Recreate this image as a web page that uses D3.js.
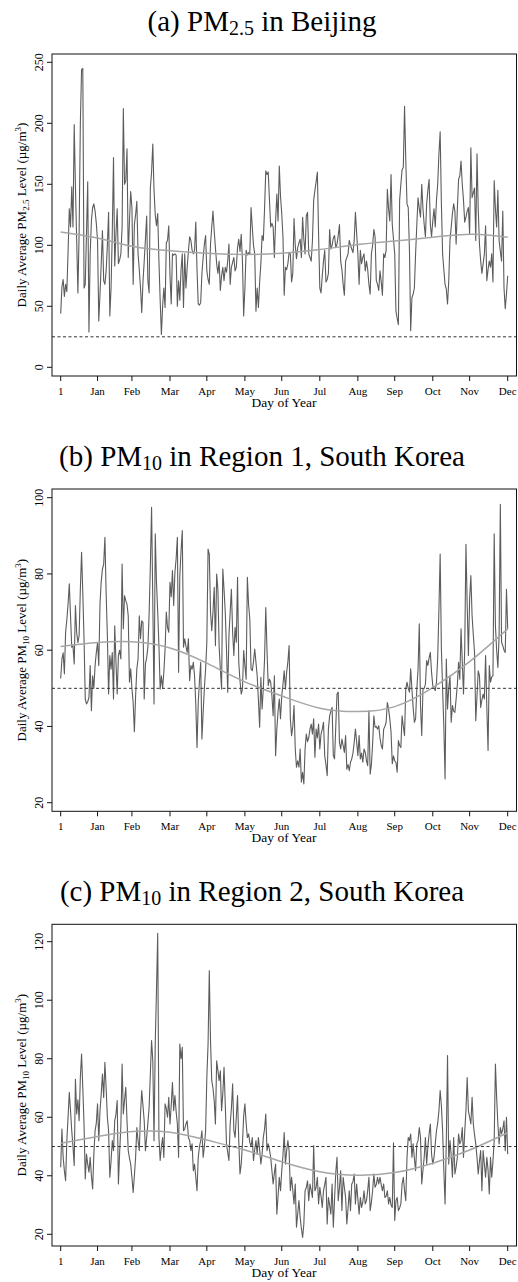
<!DOCTYPE html>
<html>
<head>
<meta charset="utf-8">
<script src="https://cdn.jsdelivr.net/npm/d3@7"></script>
<style>
  html, body { margin: 0; padding: 0; background: #fff; }
  svg { display: block; font-family: "Liberation Serif", "Times New Roman", serif; }
</style>
</head>
<body>
<svg id="chart" width="518" height="1282"></svg>
<script>
// ---- Axis categories -------------------------------------------------------
const monthTickDays   = [1, 31, 59, 90, 120, 151, 181, 212, 243, 273, 304, 334, 365];
const monthTickLabels = ["1", "Jan", "Feb", "Mar", "Apr", "May", "Jun", "Jul", "Aug", "Sep", "Oct", "Nov", "Dec"];

// ---- Daily averages (day 1 .. 365) -----------------------------------------
const beijingPM25 = [
  44,66,72,58,68,62,95,130,115,148,
  115,199,148,105,61,110,200,244,245,65,
  68,110,152,29,93,120,131,134,128,118,
  104,38,60,85,112,71,68,79,100,127,
  42,65,110,172,83,109,130,85,88,93,
  115,212,150,153,179,90,120,144,131,68,
  117,125,136,93,80,65,45,70,87,105,
  124,71,61,147,160,183,145,125,116,126,
  87,55,27,50,65,49,102,104,116,75,
  52,93,92,93,92,50,71,55,80,93,
  49,93,65,82,95,107,104,96,93,96,
  119,80,52,51,53,77,90,101,108,79,
  72,68,101,115,128,112,98,85,77,87,
  63,75,82,71,82,78,87,101,68,82,
  86,90,79,82,98,105,95,109,87,42,
  65,96,92,94,93,131,115,100,93,46,
  65,49,70,85,108,104,130,161,158,160,
  137,115,118,115,90,120,142,120,165,140,
  126,107,59,82,80,85,94,93,70,77,
  122,100,89,98,102,105,90,123,105,93,
  124,127,93,90,87,104,137,145,152,160,
  109,65,61,75,87,96,70,72,77,113,
  97,100,106,108,98,101,108,117,87,80,
  68,59,87,90,93,104,100,97,94,104,
  127,110,93,68,96,85,90,93,79,87,
  80,68,60,93,100,113,107,71,68,63,
  79,70,59,93,90,96,146,130,120,158,
  117,105,93,46,40,35,137,150,162,164,
  214,170,134,131,96,30,57,60,65,93,
  117,139,130,123,150,130,117,107,134,145,
  154,117,107,120,130,115,137,150,175,193,
  134,93,80,68,64,52,71,104,115,126,
  134,128,101,130,154,157,169,150,137,119,
  123,128,131,109,180,139,143,147,104,175,
  130,101,87,77,85,93,116,71,80,87,
  82,93,70,153,130,115,145,104,95,87,
  128,65,48,60,75
];

const region1PM10 = [
  52.6,57.7,59.3,53.8,64.7,68,72.1,77.4,69,60.8,
  61.2,56.4,71.7,64.7,62,63.8,76,85.7,75,63,
  47.2,45.9,46.5,47.6,56,44.1,53.3,50,56,59.4,
  62,56,72.1,78,81.3,82.6,89.6,75,63.8,48.5,
  58.6,55,59.4,47.2,66.4,57,48.5,58.6,60,57.7,
  82.6,65.6,74.3,73,72,69,51.6,55.1,50,46.3,
  38.6,48,55.1,57.7,69,63,67.7,67.3,47.2,56.4,
  58,60.8,69.5,82,97.5,72.6,45.9,90.5,77.8,70,
  61.2,49.8,53.3,50,54.2,60.3,70,66,64.7,77.8,
  74,80.9,71.7,80.4,84,89.6,54.2,79.5,86,91.4,
  60.8,63,61,59.4,63,52,56,55,56.8,53.3,
  45.9,34.5,46.3,52,56.8,36.7,43.7,50,55.1,62.1,
  86.5,85.2,70,65.1,70,76.5,61.2,80,76,61.2,
  55,49.8,81.3,76,70,60.3,49,63.8,70,76,
  64.7,58.6,66,62.1,79.1,56.8,52,48.5,49.8,59.9,
  56,52.4,79.1,72,68.2,55.1,54.6,57,60.3,56.8,
  53.3,47,39.8,52.9,44.6,50,57.7,71.2,60,50.7,
  52.4,51.6,48,42.8,53.3,32.3,39.3,44,47.2,42,
  48.1,51,54.6,49.8,54.2,57,61.2,42,37.6,40,
  45.5,34.1,29.3,31,29.3,34.1,25.4,28,24.9,34.1,
  38,36,37.1,39.3,40.6,38,42,31.9,39.3,37,
  40.6,34.1,38,39.3,41.1,32.3,30,27.1,39.3,42.8,
  44,45,32.3,31.5,40,48.5,49,35.8,34.1,36.7,
  35,33.2,37.6,28.8,30,28.4,30.6,31.5,33,35.8,
  39.3,36,32.3,37.6,31.5,33,30.6,34.1,33.2,31,
  29.7,44.2,27.5,30,35.4,42.8,39.8,40,39.3,40.2,
  37,35,34.1,39.3,40,41.1,46.3,44.6,42,38.5,
  30.2,32.3,31,30.6,28,36.3,35,34.5,42.8,40,
  37.6,49.8,51.6,50,49,55.1,49.8,45,41.1,42,
  49.8,55,66.9,45.5,37.6,49.8,50,51.1,57.3,56,
  58,59.4,54.2,50.7,50,49.4,51.6,58,70.8,85.2,
  60.3,49.8,40,26.2,57.7,44.6,50,53.3,41.1,45.5,
  44,43.7,47.2,51,56.8,52.4,65.6,57,48.5,60.3,
  87.8,72,58.6,73.4,79.6,69,64,59.4,41.5,48,
  54.6,53.3,45,47,48.5,47.2,58.6,45,33.7,56,
  51.6,53,53.3,90.5,66.4,60,55.5,63.8,98.3,62.1,
  61.2,60,59.4,76,65.6
];

const region2PM10 = [
  42.9,56,46.3,41.7,38.3,52,60,68.5,62.2,55.4,
  50,43.5,73,61.1,66,58.8,73.6,81.6,70,57.7,
  38.9,47.4,44,41.2,46.3,40,35.5,47.4,55.4,58,
  64.6,52,62.2,68,74.8,66.8,78.8,70,60,55.4,
  39.5,45,52,48.6,58.8,61,65.7,37.2,48,57.1,
  78.2,61.1,66,70.2,58.8,48.6,46,44,39.5,34.3,
  40,46.3,56.5,52,48.6,61.1,69.1,64,58.8,48.6,
  53.1,58,63.4,74.8,86.2,79.3,52,85.6,103.3,122.9,
  53.1,45.2,50,53.1,46.3,64.6,63,60,66.8,57.7,
  64,71.9,62.2,67.4,62,57.7,46.3,85,80,83.9,
  55.4,56,57.7,58.8,53.1,52,48.6,50.9,41.7,44,
  39.5,34.9,46.3,50,52,55.4,46.3,50,55.4,73.6,
  85,110.1,86.2,72.5,70,65.7,57.7,79.3,76,72.5,
  75.9,62.2,68,77.1,64.6,50.9,48,45.2,57.7,63,
  71.4,55.4,53.1,60,67.4,52,40.6,44,50.9,60.5,
  64.6,58,53.1,54.3,51.4,50,53.1,45.2,49,52,
  47.4,53.1,49,44,47.4,53.1,56,61.1,48.6,50.9,
  49,46.3,41.7,37.2,41,44,26.9,33,39.5,34.9,
  41.7,47,54.8,44,48.6,52,48.6,34.9,39.5,35,
  30.4,37.2,22.4,27,31.5,25.8,22,18.9,23.5,34.9,
  36,38.3,31.5,37.2,35,32.6,50.3,34.9,36,39.5,
  30.4,36.1,33,29.2,34.9,37,39.5,23.5,32.6,30,
  26.9,37.2,22.4,32,41.2,46.3,31.5,36,41.7,28.1,
  39.5,36,32.6,23.5,29,34.9,28.1,37.2,38,40.6,
  30.4,37.2,32,26.9,32.6,29.2,31,34.9,30.4,31.5,
  35,39.5,28.1,31,34.9,40.6,36.1,37,39.5,37.2,
  39.5,37,34.9,37.2,32.6,33,34.9,30.4,32.6,30,
  29.2,51.3,24.7,31.5,32.6,28.1,29,30.4,37.2,39.5,
  35,31.5,46.3,53.1,52,54.3,46.3,50.9,46,41.7,
  50.9,52,56.5,53.1,37.2,42,46.3,53.1,44,50,
  54.3,57.7,47.4,44,46.3,50.9,55.4,58,62.2,69.1,
  64,55.4,41.7,30.4,52,81.1,44,52,47,39.5,
  53.1,40.6,43,46.3,54.3,50.9,52,56.5,46.3,55,
  62.2,73.6,62.2,60,57.7,66.8,57.7,54,50.9,46.3,
  40.6,45,48.6,34.9,48.6,44,39.5,46.3,42,33.8,
  46.3,39.5,45,52,78.2,66.8,57.7,50.9,56.5,54.3,
  56,58.8,48.6,60,47.4
];

// ---- Seasonal trend (knots: [day, level]) ----------------------------------
const beijingTrend = [[1,111],[31,106],[60,99],[90,95.5],[120,93.5],[151,92.5],[181,93.5],
                      [212,96.5],[242,100.5],[273,103.5],[304,106.6],[336,109],[365,106.6]];
const region1Trend = [[1,61],[31,62],[59,62.2],[90,60.6],[120,56.6],[151,51.7],[181,48],
                      [212,44.8],[243,43.9],[273,45.2],[304,50.2],[334,57],[365,65.6]];
const region2Trend = [[1,51.1],[31,53.4],[59,55.1],[90,54.9],[120,52.2],[151,48.8],[181,44.8],
                      [212,41.4],[243,40.2],[273,41.1],[304,44.3],[334,48.8],[365,54.7]];

// ---- Y ticks and reference standards ----------------------------------------
const beijingTicks = [0, 50, 100, 150, 200, 250];
const region1Ticks = [20, 40, 60, 80, 100];
const region2Ticks = [20, 40, 60, 80, 100, 120];
const beijingStandard = 25;
const koreaStandard = 50;

// ---- Layout ----------------------------------------------------------------
const svg = d3.select("#chart");
const boxLeft = 52, boxRight = 516.5;
const x = d3.scaleLinear().domain([1, 365]).range([60.7, 507.7]);
const days = d3.range(1, 366);

const panels = [
  { label: "(a) PM", sub: "2.5", rest: " in Beijing", pmSub: "2.5",
    values: beijingPM25, trend: beijingTrend, ticks: beijingTicks, standard: beijingStandard,
    top: 54, bottom: 376, domain: [0, 250], range: [367.3, 62.3] },
  { label: "(b) PM", sub: "10", rest: " in Region 1, South Korea", pmSub: "10",
    values: region1PM10, trend: region1Trend, ticks: region1Ticks, standard: koreaStandard,
    top: 489, bottom: 811.3, domain: [20, 100], range: [802.7, 497.7] },
  { label: "(c) PM", sub: "10", rest: " in Region 2, South Korea", pmSub: "10",
    values: region2PM10, trend: region2Trend, ticks: region2Ticks, standard: koreaStandard,
    top: 924.3, bottom: 1246, domain: [20, 120], range: [1234.3, 941.7] }
];

panels.forEach(p => {
  const y = d3.scaleLinear().domain(p.domain).range(p.range);
  const g = svg.append("g");

  // panel title
  const title = g.append("text")
    .attr("x", 262).attr("y", p.top - 23.5)
    .attr("text-anchor", "middle")
    .attr("font-size", 29).attr("fill", "#000");
  title.append("tspan").text(p.label);
  title.append("tspan").attr("font-size", 20).attr("dy", 4.5).text(p.sub);
  title.append("tspan").attr("dy", -4.5).text(p.rest);

  // clip the series to the plotting box
  const clipId = "clip" + p.top;
  g.append("clipPath").attr("id", clipId)
    .append("rect").attr("x", boxLeft).attr("y", p.top)
    .attr("width", boxRight - boxLeft).attr("height", p.bottom - p.top);
  const plot = g.append("g").attr("clip-path", `url(#${clipId})`);

  // daily series
  plot.append("path")
    .datum(p.values)
    .attr("fill", "none")
    .attr("stroke", "#5c5c5c")
    .attr("stroke-width", 1.1)
    .attr("stroke-linejoin", "round")
    .attr("d", d3.line().x((d, i) => x(days[i])).y(d => y(d)));

  // seasonal trend
  plot.append("path")
    .datum(p.trend)
    .attr("fill", "none")
    .attr("stroke", "#a6a6a6")
    .attr("stroke-width", 1.5)
    .attr("d", d3.line().curve(d3.curveNatural).x(d => x(d[0])).y(d => y(d[1])));

  // air quality standard
  plot.append("line")
    .attr("x1", boxLeft).attr("x2", boxRight)
    .attr("y1", y(p.standard)).attr("y2", y(p.standard))
    .attr("stroke", "#333").attr("stroke-width", 1)
    .attr("stroke-dasharray", "3,2.5");

  // frame
  g.append("rect")
    .attr("x", boxLeft).attr("y", p.top)
    .attr("width", boxRight - boxLeft).attr("height", p.bottom - p.top)
    .attr("fill", "none").attr("stroke", "#111").attr("stroke-width", 1);

  // x axis ticks
  const xAxis = g.append("g");
  xAxis.selectAll("line").data(monthTickDays).join("line")
    .attr("x1", d => x(d)).attr("x2", d => x(d))
    .attr("y1", p.bottom).attr("y2", p.bottom + 5)
    .attr("stroke", "#111");
  xAxis.selectAll("text").data(monthTickDays).join("text")
    .attr("x", d => x(d)).attr("y", p.bottom + 18.5)
    .attr("text-anchor", "middle").attr("font-size", 11)
    .text((d, i) => monthTickLabels[i]);
  g.append("text")
    .attr("x", 284).attr("y", p.bottom + 30.5)
    .attr("text-anchor", "middle").attr("font-size", 13.5)
    .text("Day of Year");

  // y axis ticks
  const yAxis = g.append("g");
  yAxis.selectAll("line").data(p.ticks).join("line")
    .attr("x1", boxLeft).attr("x2", boxLeft - 5)
    .attr("y1", d => y(d)).attr("y2", d => y(d))
    .attr("stroke", "#111");
  yAxis.selectAll("text").data(p.ticks).join("text")
    .attr("transform", d => `translate(42.5,${y(d)}) rotate(-90)`)
    .attr("text-anchor", "middle").attr("font-size", 12)
    .text(d => d);

  // y axis title
  const midY = (p.top + p.bottom) / 2;
  const yt = g.append("text")
    .attr("transform", `translate(25.5,${midY}) rotate(-90)`)
    .attr("text-anchor", "middle").attr("font-size", 13);
  yt.append("tspan").text("Daily Average PM");
  yt.append("tspan").attr("font-size", 9).attr("dy", 3).text(p.pmSub);
  yt.append("tspan").attr("dy", -3).text(" Level (\u00b5g/m");
  yt.append("tspan").attr("font-size", 9).attr("dy", -5).text("3");
  yt.append("tspan").attr("dy", 5).text(")");
});
</script>
</body>
</html>
